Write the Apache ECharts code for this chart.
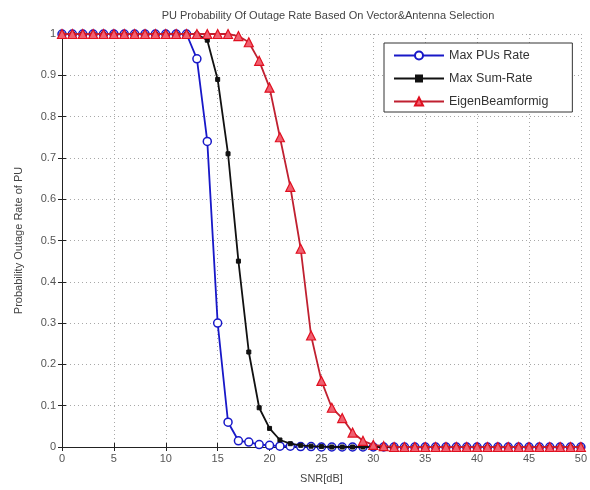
<!DOCTYPE html>
<html>
<head>
<meta charset="utf-8">
<script src="https://cdn.jsdelivr.net/npm/echarts@6/dist/echarts.min.js"></script>
<style>
  html, body { margin: 0; padding: 0; background: #fff; }
  #chart { width: 590px; height: 490px; }
</style>
</head>
<body>
<div id="chart"></div>
<script>
// SNR in dB
const snr = [0, 1, 2, 3, 4, 5, 6, 7, 8, 9, 10, 11, 12, 13, 14, 15, 16, 17, 18, 19, 20,
  21, 22, 23, 24, 25, 26, 27, 28, 29, 30, 31, 32, 33, 34, 35, 36, 37, 38, 39, 40,
  41, 42, 43, 44, 45, 46, 47, 48, 49, 50];

const maxPUsRate = [1, 1, 1, 1, 1, 1, 1, 1, 1, 1, 1, 1, 1,
  0.94, 0.74, 0.30, 0.06, 0.015, 0.012, 0.006, 0.004, 0.002, 0.002, 0.001, 0.001,
  0, 0, 0, 0, 0, 0, 0, 0, 0, 0, 0, 0, 0, 0, 0, 0, 0, 0, 0, 0, 0, 0, 0, 0, 0, 0];

const maxSumRate = [1, 1, 1, 1, 1, 1, 1, 1, 1, 1, 1, 1, 1, 1,
  0.985, 0.89, 0.71, 0.45, 0.23, 0.095, 0.045, 0.017, 0.008, 0.004, 0.002, 0.001,
  0, 0, 0, 0, 0, 0, 0, 0, 0, 0, 0, 0, 0, 0, 0, 0, 0, 0, 0, 0, 0, 0, 0, 0, 0];

const eigenBeamforming = [1, 1, 1, 1, 1, 1, 1, 1, 1, 1, 1, 1, 1, 1, 1, 1, 1,
  0.995, 0.98, 0.935, 0.87, 0.75, 0.63, 0.48, 0.27, 0.16, 0.095, 0.07, 0.035, 0.015, 0.005, 0.002,
  0, 0, 0, 0, 0, 0, 0, 0, 0, 0, 0, 0, 0, 0, 0, 0, 0, 0, 0];

const xTicks = [0, 5, 10, 15, 20, 25, 30, 35, 40, 45, 50];
const yTicks = [0, 0.1, 0.2, 0.3, 0.4, 0.5, 0.6, 0.7, 0.8, 0.9, 1];

const chart = echarts.init(document.getElementById('chart'));
const font = 'Liberation Sans, Arial, sans-serif';
const pairs = vals => snr.map((x, i) => [x, vals[i]]);

const gridLine = { show: true, lineStyle: { color: '#a8a8a8', type: [1, 3], width: 1 } };
const boxAxis = { show: true, lineStyle: { color: '#222', width: 1 } };
const tick = { inside: true, length: 4, lineStyle: { color: '#222' } };

const option = {
  backgroundColor: '#fff',
  animation: false,
  title: {
    text: 'PU Probability Of Outage Rate Based On Vector&Antenna Selection',
    left: 323, top: 5, textAlign: 'center',
    textStyle: { fontFamily: font, fontSize: 11, fontWeight: 'normal', color: '#444' }
  },
  grid: { left: 62, right: 6, top: 34, bottom: 43 },
  legend: {
    orient: 'vertical',
    left: 384, top: 43,
    backgroundColor: '#fff',
    borderColor: '#333', borderWidth: 1,
    padding: [6, 24, 4, 9],
    itemGap: 10,
    itemWidth: 50, itemHeight: 10,
    textStyle: { fontFamily: font, fontSize: 12.5, color: '#333' },
    data: ['Max PUs Rate', 'Max Sum-Rate', 'EigenBeamformig']
  },
  xAxis: [{
    type: 'value', min: 0, max: 50, interval: 5,
    name: 'SNR[dB]', nameLocation: 'middle', nameGap: 26,
    nameTextStyle: { fontFamily: font, fontSize: 11, color: '#444' },
    axisLine: boxAxis,
    axisTick: tick,
    axisLabel: { fontFamily: font, fontSize: 11, color: '#555', margin: 6,
      formatter: v => xTicks.includes(v) ? String(v) : '' },
    splitLine: gridLine
  }, {
    type: 'value', min: 0, max: 50, interval: 5, position: 'top',
    axisLine: boxAxis,
    axisTick: tick,
    axisLabel: { show: false }, splitLine: { show: false }
  }],
  yAxis: [{
    type: 'value', min: 0, max: 1, interval: 0.1,
    name: 'Probability Outage Rate of PU', nameLocation: 'middle', nameGap: 38,
    nameTextStyle: { fontFamily: font, fontSize: 11, color: '#444' },
    axisLine: boxAxis,
    axisTick: tick,
    axisLabel: { fontFamily: font, fontSize: 11, color: '#555', margin: 6,
      formatter: v => { const t = yTicks.find(k => Math.abs(k - v) < 1e-9); return t === undefined ? '' : String(t); } },
    splitLine: gridLine
  }, {
    type: 'value', min: 0, max: 1, interval: 0.1, position: 'right',
    axisLine: boxAxis,
    axisTick: tick,
    axisLabel: { show: false }, splitLine: { show: false }
  }],
  series: [
    {
      name: 'Max PUs Rate', type: 'line', clip: false,
      data: pairs(maxPUsRate),
      symbol: 'circle', symbolSize: 8,
      lineStyle: { color: '#1818c8', width: 1.8 },
      itemStyle: { color: '#fff', borderColor: '#1818c8', borderWidth: 1.5 },
      z: 2
    },
    {
      name: 'Max Sum-Rate', type: 'line', clip: false,
      data: pairs(maxSumRate),
      symbol: 'rect', symbolSize: 4,
      lineStyle: { color: '#111', width: 1.8 },
      itemStyle: { color: '#111', borderColor: '#111' },
      z: 3
    },
    {
      name: 'EigenBeamformig', type: 'line', clip: false,
      data: pairs(eigenBeamforming),
      symbol: 'triangle', symbolSize: 9,
      lineStyle: { color: '#c02030', width: 1.8 },
      itemStyle: { color: '#f06070', borderColor: '#e01020', borderWidth: 1.2 },
      z: 4
    }
  ]
};

chart.setOption(option);
</script>
</body>
</html>
